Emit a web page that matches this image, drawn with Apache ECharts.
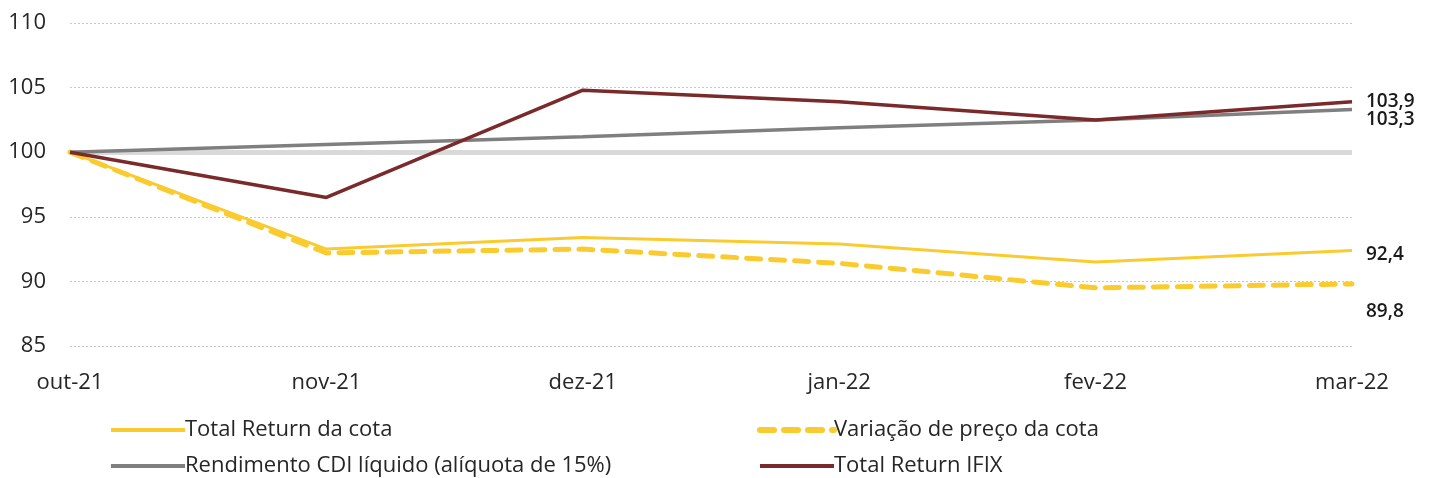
<!DOCTYPE html>
<html><head><meta charset="utf-8">
<script src="https://cdn.jsdelivr.net/npm/echarts@6/dist/echarts.min.js"></script>
<style>html,body{margin:0;padding:0;background:#fff}#c{width:1434px;height:478px}</style>
</head><body><div id="c"></div>
<script>
const categories = ['out-21','nov-21','dez-21','jan-22','fev-22','mar-22'];
const totalReturnCota = [100, 92.5, 93.4, 92.9, 91.5, 92.4];
const variacaoPreco = [100, 92.2, 92.5, 91.4, 89.5, 89.8];
const cdiLiquido = [100, 100.6, 101.2, 101.9, 102.5, 103.3];
const totalReturnIfix = [100, 96.5, 104.8, 103.9, 102.5, 103.9];
const yTicks = [85, 90, 95, 100, 105, 110];

const FONT = '"Open Sans", "Noto Sans", sans-serif';
const fmt = v => v.toFixed(1).replace('.', ',');
const endLbl = (dy) => ({show:true, formatter: p => fmt(p.value), color:'#1a1a1a', fontSize:19, fontWeight:600, fontFamily:FONT, distance:14, offset:[0,dy]});
const legText = {fontSize:22, color:'#262626', fontFamily:FONT, padding:[0,0,0,-5]};

const chart = echarts.init(document.getElementById('c'));
chart.setOption({
  animation:false,
  grid:{left:70, right:82, top:23, bottom:132},
  legend:[
    {orient:'vertical', left:104, top:414, height:100, itemWidth:74, itemHeight:10, itemGap:14,
     itemStyle:{opacity:0},
     data:[{name:'Total Return da cota', lineStyle:{width:4}},
           {name:'Rendimento CDI líquido (alíquota de 15%)', lineStyle:{width:4}}],
     textStyle:legText},
    {orient:'vertical', left:752, top:414, height:100, itemWidth:74, itemHeight:10, itemGap:14,
     itemStyle:{opacity:0},
     data:[{name:'Variação de preço da cota', lineStyle:{width:6}},
           {name:'Total Return IFIX', lineStyle:{width:4}}],
     textStyle:legText}
  ],
  xAxis:{type:'category', data:categories, boundaryGap:false,
    axisLine:{show:false}, axisTick:{show:false},
    axisLabel:{fontSize:22, color:'#262626', fontFamily:FONT, margin:26}},
  yAxis:{type:'value', min:85, max:110, interval:5,
    axisLine:{show:false}, axisTick:{show:false},
    axisLabel:{fontSize:22, color:'#262626', fontFamily:FONT, margin:24,
      formatter:v=> yTicks.includes(v)? String(v):''},
    splitLine:{lineStyle:{type:[2,2], color:'#c8c8c8', width:1}}},
  series:[
    {name:'Total Return da cota', type:'line', data:totalReturnCota, symbol:'none', z:3,
     lineStyle:{color:'#FACB2E', width:3}, itemStyle:{color:'#FACB2E'},
     endLabel:endLbl(4),
     markLine:{silent:true, symbol:'none', label:{show:false},
       lineStyle:{color:'#d9d9d9', type:'solid', width:5}, data:[{yAxis:100}], z:1}},
    {name:'Variação de preço da cota', type:'line', data:variacaoPreco, symbol:'none', z:2,
     lineStyle:{color:'#FACB2E', width:5, type:[14,10], cap:'round'}, itemStyle:{color:'#FACB2E'},
     endLabel:endLbl(28)},
    {name:'Rendimento CDI líquido (alíquota de 15%)', type:'line', data:cdiLiquido, symbol:'none', z:3,
     lineStyle:{color:'#7F7F7F', width:3.5}, itemStyle:{color:'#7F7F7F'},
     endLabel:endLbl(10)},
    {name:'Total Return IFIX', type:'line', data:totalReturnIfix, symbol:'none', z:4,
     lineStyle:{color:'#7A2A2A', width:3.5}, itemStyle:{color:'#7A2A2A'},
     endLabel:endLbl(0)}
  ]
});
</script></body></html>
